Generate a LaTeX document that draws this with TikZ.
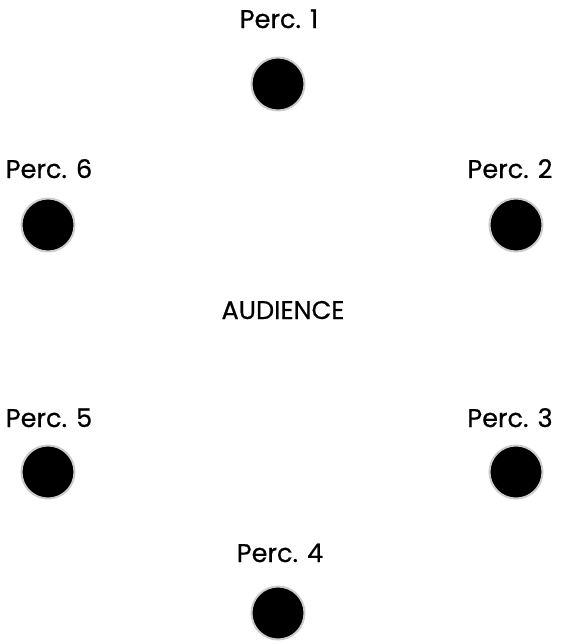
\documentclass[tikz,border=0pt]{standalone}
\usepackage{fontspec}
\setmainfont{Poppins}
\newfontfamily\percfont{Poppins}[FakeBold=0.6]
\usetikzlibrary{positioning}

\begin{document}
\begin{tikzpicture}[
  x=0.5pt, y=-0.5pt,
  seat/.style={circle,fill=black,draw=black!20,line width=1pt,minimum size=26.5pt,inner sep=0pt},
  lbl/.style={font=\percfont\fontsize{12.8}{15}\selectfont,inner sep=0pt,anchor=base}
]
\useasboundingbox (0,0) rectangle (566,644);
% players
\node[seat] (p1) at (278,84) {};
\node[seat] (p2) at (516,225) {};
\node[seat] (p3) at (516,472) {};
\node[seat] (p4) at (278,613) {};
\node[seat] (p5) at (48,472) {};
\node[seat] (p6) at (48,225) {};
% names
\node[lbl] (t1) at (279,28) {Perc. 1};
\node[lbl] (t2) at (510,178) {Perc. 2};
\node[lbl] (t3) at (510,427) {Perc. 3};
\node[lbl] (t4) at (280,562) {Perc. 4};
\node[lbl] (t5) at (49,427) {Perc. 5};
\node[lbl] (t6) at (49,178) {Perc. 6};
\node[lbl] (aud) at (283,319) {AUDIENCE};
\end{tikzpicture}
\end{document}
